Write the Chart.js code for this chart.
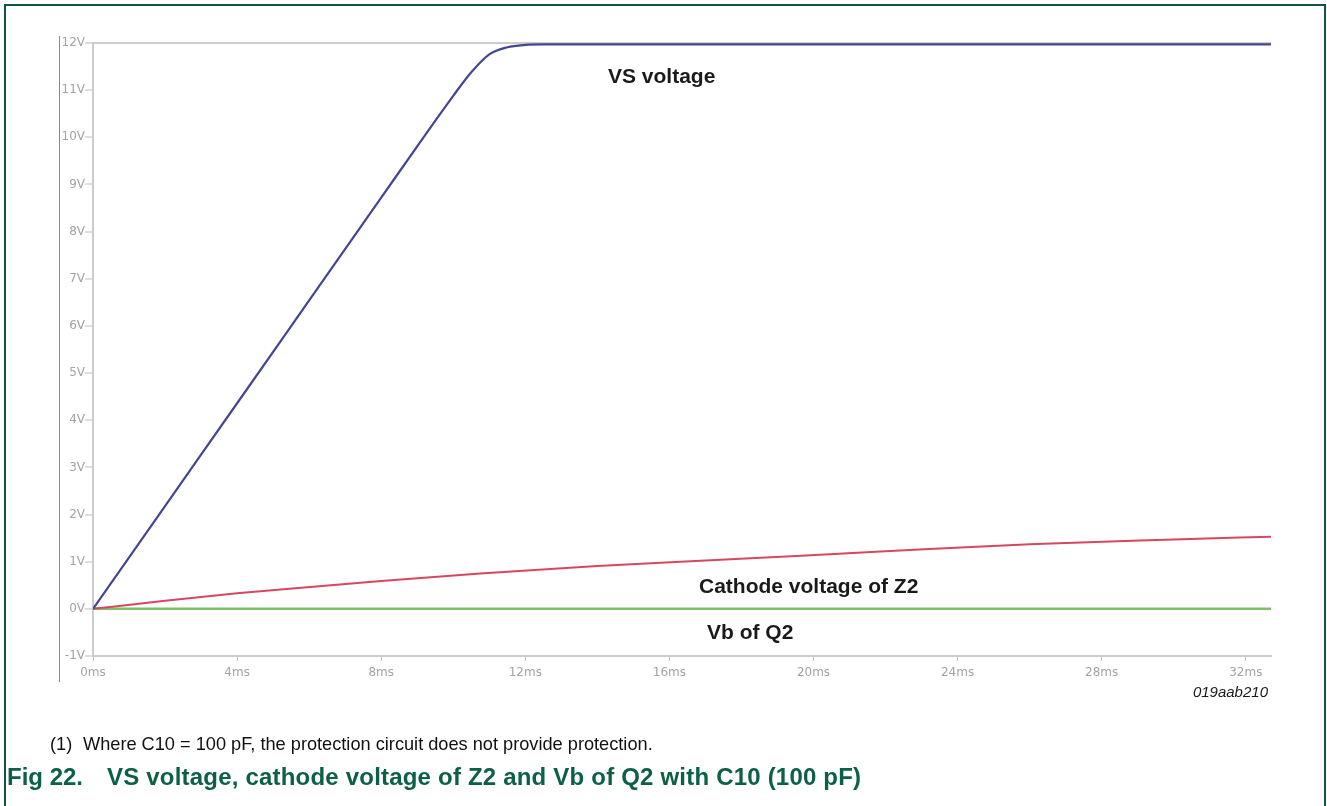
<!DOCTYPE html>
<html>
<head>
<meta charset="utf-8">
<script src="https://cdn.jsdelivr.net/npm/chart.js@4.4.1/dist/chart.umd.min.js"></script>
<style>
  html, body { margin: 0; padding: 0; background: #ffffff; }
  body { width: 1327px; height: 806px; position: relative; overflow: hidden; font-family: "Liberation Sans", Arial, sans-serif; }
  #frame { position: absolute; left: 4px; top: 4px; width: 1322px; height: 820px; border: 2px solid #0e5644; border-bottom: none; box-sizing: border-box; }
  #plotEdge { position: absolute; left: 59px; top: 36px; width: 1px; height: 646px; background: #8a8a8a; }
  #chartBox { position: absolute; left: 0; top: 0; width: 1327px; height: 806px; }
  .trace { position: absolute; font-weight: bold; font-size: 21px; color: #1a1a1a; line-height: 21px; white-space: nowrap; }
  #figId { position: absolute; right: 59px; top: 684px; font-size: 15px; font-style: italic; color: #1a1a1a; line-height: 15px; }
  .note { position: absolute; top: 735px; font-size: 18.2px; color: #111; line-height: 18px; white-space: nowrap; }
  .caption { position: absolute; top: 765px; font-size: 24px; font-weight: bold; color: #0b6046; line-height: 23px; white-space: nowrap; }
</style>
</head>
<body>
<div id="frame"></div>
<div id="plotEdge"></div>
<div id="chartBox"><canvas id="c" width="1327" height="806"></canvas></div>
<div class="trace" style="left:608px; top:65px;">VS voltage</div>
<div class="trace" style="left:699px; top:575px;">Cathode voltage of Z2</div>
<div class="trace" style="left:707px; top:621px;">Vb of Q2</div>
<div id="figId">019aab210</div>
<div class="note" style="left:50px;">(1)</div>
<div class="note" style="left:83px;">Where C10 = 100 pF, the protection circuit does not provide protection.</div>
<div class="caption" style="left:7px;">Fig 22.</div>
<div class="caption" style="left:107px; letter-spacing:0.2px;">VS voltage, cathode voltage of Z2 and Vb of Q2 with C10 (100 pF)</div>
<script>
// Time axis (ms) and voltage samples for each trace
const vsTime  = [0, 2, 4, 6, 8, 9, 10, 10.5, 11, 11.5, 12, 12.5, 16, 20, 24, 28, 32.7];
const vsVolts = [0, 2.18, 4.36, 6.54, 8.72, 9.81, 10.88, 11.38, 11.76, 11.91, 11.96, 11.97, 11.97, 11.97, 11.97, 11.97, 11.97];

const cathodeTime  = [0, 2, 4, 5.2, 8, 10.75, 14, 17.7, 22, 26, 30, 32.7];
const cathodeVolts = [0, 0.17, 0.33, 0.41, 0.59, 0.75, 0.91, 1.05, 1.22, 1.37, 1.47, 1.53];

const vbTime  = [0, 32.7];
const vbVolts = [0, 0];

// Tick positions
const timeTicks = [0, 4, 8, 12, 16, 20, 24, 28, 32];
const voltTicks = [-1, 0, 1, 2, 3, 4, 5, 6, 7, 8, 9, 10, 11, 12];

const toPoints = (xs, ys) => xs.map((x, i) => ({ x: x, y: ys[i] }));

const axisGray = '#cccccc';
const tickFont = { family: 'DejaVu Sans', size: 12 };

new Chart(document.getElementById('c'), {
  type: 'line',
  data: {
    datasets: [
      { label: 'Vb of Q2', data: toPoints(vbTime, vbVolts), borderColor: '#7bc16b', borderWidth: 2.5, pointRadius: 0, tension: 0, order: 3 },
      { label: 'Cathode voltage of Z2', data: toPoints(cathodeTime, cathodeVolts), borderColor: '#d8475f', borderWidth: 2, pointRadius: 0, cubicInterpolationMode: 'monotone', order: 2 },
      { label: 'VS voltage', data: toPoints(vsTime, vsVolts), borderColor: '#434690', borderWidth: 2.2, pointRadius: 0, cubicInterpolationMode: 'monotone', order: 1 }
    ]
  },
  options: {
    responsive: false,
    animation: false,
    devicePixelRatio: 1,
    layout: { padding: { left: 0, top: 43, right: 56, bottom: 120 } },
    plugins: { legend: { display: false }, tooltip: { enabled: false } },
    scales: {
      x: {
        type: 'linear',
        min: 0,
        max: 32.7,
        afterBuildTicks: s => { s.ticks = timeTicks.map(v => ({ value: v })); },
        afterFit: s => { s.height = 30; },
        border: { color: axisGray, width: 2 },
        grid: { drawOnChartArea: false, tickLength: 5, tickColor: '#bdbdbd', tickWidth: 1 },
        ticks: { color: '#a3a3a3', font: tickFont, padding: 5, maxRotation: 0, callback: v => v + 'ms' }
      },
      y: {
        type: 'linear',
        min: -1,
        max: 12,
        afterBuildTicks: s => { s.ticks = voltTicks.map(v => ({ value: v })); },
        afterFit: s => { s.width = 93; },
        border: { color: axisGray, width: 2 },
        grid: {
          drawOnChartArea: true,
          color: c => (c.tick && c.tick.value === 12) ? axisGray : 'rgba(0,0,0,0)',
          lineWidth: 2,
          tickLength: 8,
          tickColor: '#bdbdbd',
          tickWidth: 1
        },
        ticks: { color: '#a3a3a3', font: tickFont, padding: 0, callback: v => v + 'V' }
      }
    }
  }
});
</script>
</body>
</html>
